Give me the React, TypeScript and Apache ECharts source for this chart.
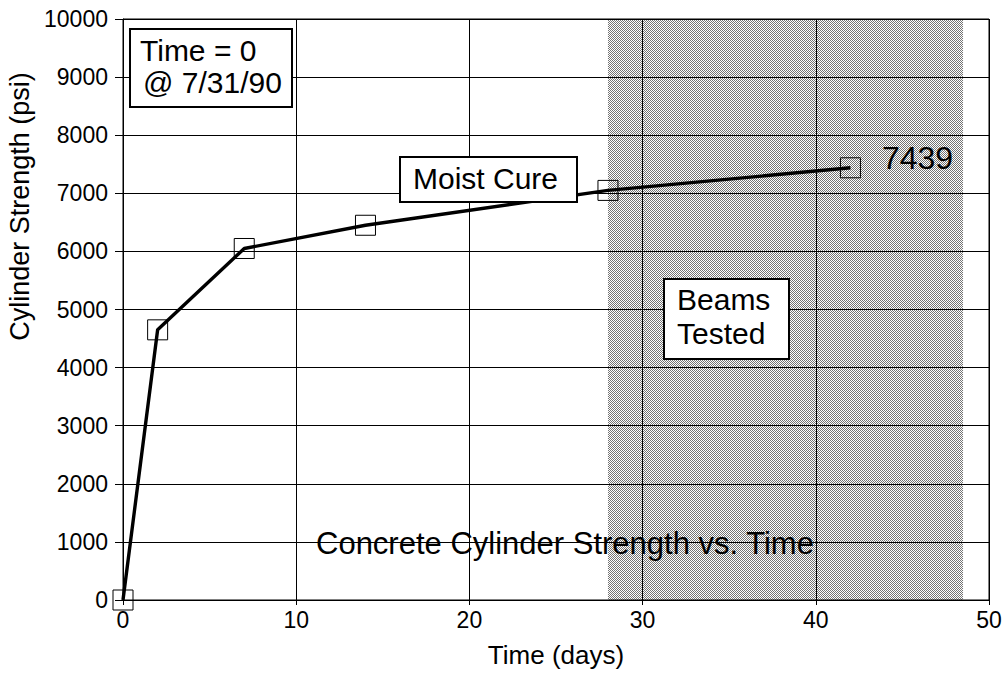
import React, { useEffect, useRef } from "react";
import * as echarts from "echarts";

const days = [0, 2, 7, 14, 28, 42];
const strengthPsi = [0, 4650, 6050, 6450, 7050, 7439];
const xAxisRange = [0, 50];
const xInterval = 10;
const yAxisRange = [0, 10000];
const yInterval = 1000;
const beamsTestedDays = [28, 48.5];

const FONT = "'Liberation Sans', Arial, Helvetica, sans-serif";

function makePattern(): string {
  const c = document.createElement("canvas");
  c.width = 2;
  c.height = 2;
  const ctx = c.getContext("2d")!;
  ctx.clearRect(0, 0, 2, 2);
  ctx.fillStyle = "rgba(0,0,0,0.55)";
  ctx.fillRect(0, 0, 1, 1);
  ctx.fillRect(1, 1, 1, 1);
  return c.toDataURL();
}

const boxStyle = { fill: "#fff", stroke: "#000", lineWidth: 2 };
const txt = (text: string, x: number, y: number) => ({
  type: "text",
  x,
  y,
  z: 101,
  style: { text, fontSize: 30, fontFamily: FONT, fill: "#000", verticalAlign: "middle" },
});

export default function App() {
  const ref = useRef<HTMLDivElement>(null);
  useEffect(() => {
    document.body.style.margin = "0";
    if (!ref.current) return;
    const chart = echarts.init(ref.current, undefined, { renderer: "svg" });
    const pattern = makePattern();
    const seriesData = days.map((d, i) => {
      const item: any = { value: [d, strengthPsi[i]] };
      if (i === days.length - 1) {
        item.label = {
          show: true,
          position: "right",
          distance: 21,
          offset: [0, -10],
          formatter: (p: any) => String(p.value[1]),
          fontSize: 32,
          fontFamily: FONT,
          color: "#000",
        };
      }
      return item;
    });
    chart.setOption({
      animation: false,
      backgroundColor: "#fff",
      textStyle: { fontFamily: FONT, color: "#000" },
      title: {
        text: "Concrete Cylinder Strength vs. Time",
        left: 316,
        top: 528,
        padding: 0,
        textStyle: { fontSize: 31, fontWeight: "normal", fontFamily: FONT, color: "#000" },
        z: 10,
      },
      grid: {
        left: 123,
        right: 19,
        top: 19,
        bottom: 77,
        show: true,
        borderColor: "#000",
        borderWidth: 1,
        containLabel: false,
        outerBoundsMode: "none",
      },
      xAxis: {
        type: "value",
        min: xAxisRange[0],
        max: xAxisRange[1],
        interval: xInterval,
        name: "Time (days)",
        nameLocation: "middle",
        nameGap: 42,
        nameTextStyle: { fontSize: 26, fontFamily: FONT, color: "#000" },
        axisLine: { show: true, lineStyle: { color: "#000", width: 1 } },
        axisTick: { show: true, length: 5, lineStyle: { color: "#000" } },
        axisLabel: { fontSize: 23, margin: 8, color: "#000", fontFamily: FONT },
        splitLine: { show: true, lineStyle: { color: "#000", width: 1 } },
      },
      yAxis: {
        type: "value",
        min: yAxisRange[0],
        max: yAxisRange[1],
        interval: yInterval,
        name: "Cylinder Strength (psi)",
        nameLocation: "middle",
        nameGap: 89,
        nameRotate: 90,
        nameTextStyle: { fontSize: 27, fontFamily: FONT, color: "#000", padding: [0, 0, 0, 206] },
        axisLine: { show: true, lineStyle: { color: "#000", width: 1 } },
        axisTick: { show: true, length: 8, lineStyle: { color: "#000" } },
        axisLabel: {
          fontSize: 23,
          margin: 15,
          color: "#000",
          fontFamily: FONT,
          formatter: (v: number) => String(v),
        },
        splitLine: { show: true, lineStyle: { color: "#000", width: 1 } },
      },
      series: [
        {
          type: "line",
          data: seriesData,
          symbol: "rect",
          symbolSize: 20,
          lineStyle: { color: "#000", width: 3.4 },
          itemStyle: { color: "rgba(0,0,0,0)", borderColor: "#000", borderWidth: 1 },
          markArea: {
            silent: true,
            itemStyle: { color: { image: pattern, repeat: "repeat" } as any, opacity: 1 },
            data: [[{ xAxis: beamsTestedDays[0] }, { xAxis: beamsTestedDays[1] }]],
          },
          z: 3,
        },
      ],
      graphic: [
        { type: "rect", z: 100, shape: { x: 130, y: 29, width: 162, height: 78 }, style: boxStyle },
        txt("Time = 0", 140, 50),
        txt("@ 7/31/90", 143, 82),
        { type: "rect", z: 100, shape: { x: 400, y: 157, width: 177, height: 45 }, style: boxStyle },
        txt("Moist Cure", 413, 178),
        { type: "rect", z: 100, shape: { x: 664, y: 279, width: 125, height: 80 }, style: boxStyle },
        txt("Beams", 677, 299),
        txt("Tested", 677, 333),
      ],
    });
    return () => chart.dispose();
  }, []);
  return <div ref={ref} style={{ width: 1008, height: 677 }} />;
}
